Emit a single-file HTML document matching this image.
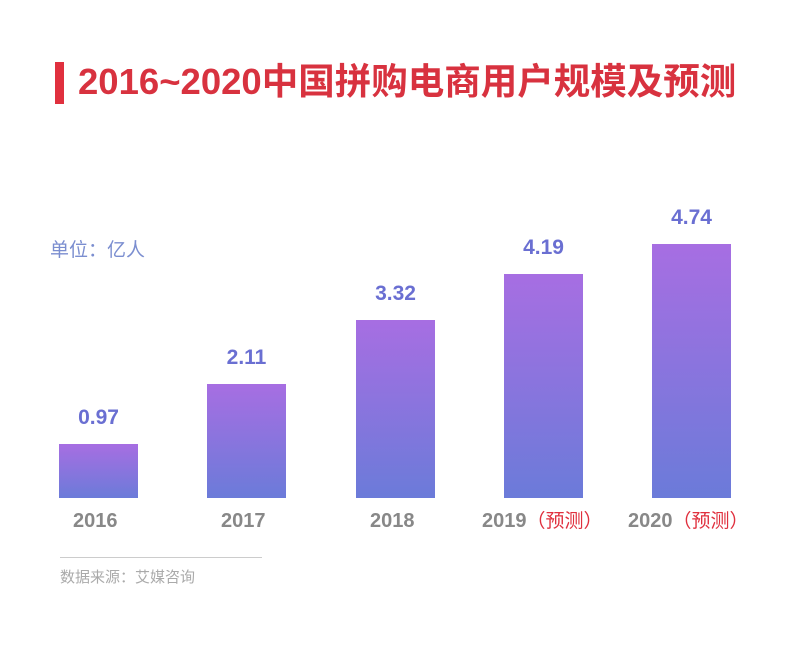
<!DOCTYPE html>
<html><head><meta charset="utf-8"><style>
body{margin:0;width:800px;height:649px;background:#fff;position:relative;overflow:hidden;font-family:"Liberation Sans","Noto Sans CJK SC",sans-serif}
.a{position:absolute}
.bar{position:absolute;width:79px;bottom:151px;background:linear-gradient(#a76ee2,#6b7bd9)}
.v{position:absolute;width:79px;text-align:center;color:#6a6fd2;font-weight:bold;font-size:21px}
.y{position:absolute;top:508px;height:26px;line-height:26px;color:#888;font-weight:bold;font-size:20px;white-space:nowrap}
.y span{color:#e0303e;font-weight:normal;font-size:19px}
</style></head><body>
<div class="a" style="left:55px;top:62px;width:9px;height:42px;background:#e0303e"></div>
<div class="a" style="left:78px;top:60px;height:44px;line-height:44px;font-size:36.5px;font-weight:bold;color:#d8323f;white-space:nowrap">2016~2020中国拼购电商用户规模及预测</div>
<div class="a" style="left:50px;top:235px;font-size:19px;color:#7b8ed0">单位：亿人</div>
<div class="bar" style="left:59px;height:54px"></div>
<div class="bar" style="left:207px;height:114px"></div>
<div class="bar" style="left:356px;height:178px"></div>
<div class="bar" style="left:504px;height:224px"></div>
<div class="bar" style="left:652px;height:254px"></div>
<div class="v" style="left:59px;top:406px">0.97</div>
<div class="v" style="left:207px;top:346px">2.11</div>
<div class="v" style="left:356px;top:282px">3.32</div>
<div class="v" style="left:504px;top:236px">4.19</div>
<div class="v" style="left:652px;top:206px">4.74</div>
<div class="y" style="left:73px">2016</div>
<div class="y" style="left:221px">2017</div>
<div class="y" style="left:370px">2018</div>
<div class="y" style="left:482px">2019<span>（预测）</span></div>
<div class="y" style="left:628px">2020<span>（预测）</span></div>
<div class="a" style="left:60px;top:557px;width:202px;height:1px;background:#ccc"></div>
<div class="a" style="left:60px;top:566px;font-size:15px;color:#aaa">数据来源：艾媒咨询</div>
</body></html>
